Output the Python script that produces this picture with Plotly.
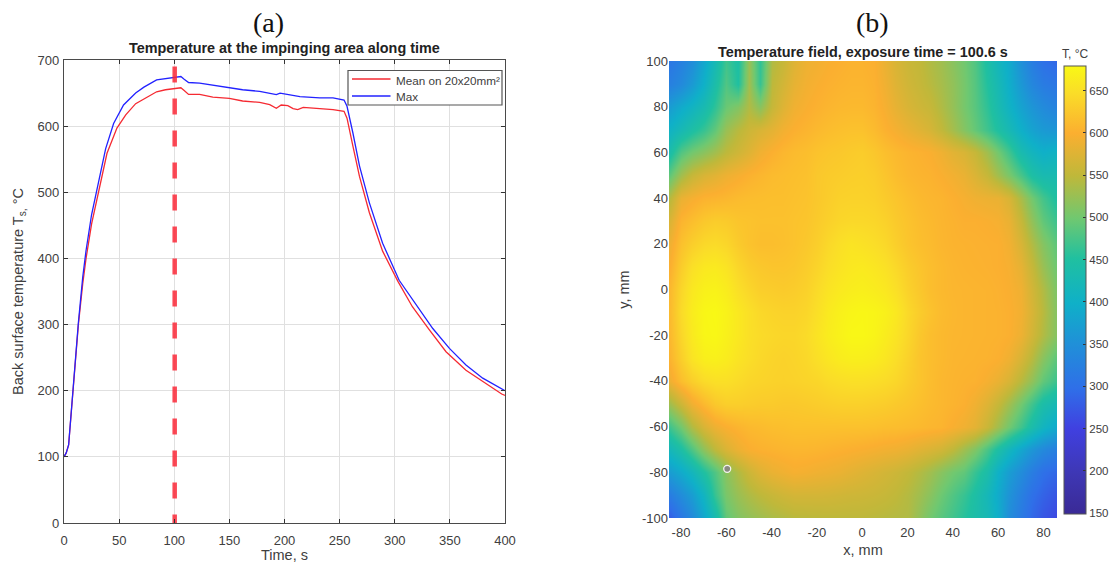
import plotly.graph_objects as go

W, H = 1114, 563

# ---- panel (a) data ----
t_mean = [0, 2, 4.2, 8, 13, 17, 20, 25, 31.7, 39, 48, 56, 65, 72.5, 84, 92, 100, 106, 109, 113, 123, 135, 150, 162, 177.5, 186.6, 192.6, 197, 203, 207.8, 212, 217, 232, 244, 254, 256.7, 262, 268, 277, 289, 303, 316, 331.4, 346.5, 364.6, 380, 397, 400]
v_mean = [100, 106, 118, 196, 299, 362, 400, 452, 503, 559, 597, 617, 634, 641, 652, 655, 657, 658, 654, 648, 648, 644, 642, 638, 636, 632.5, 627, 632, 631, 626.5, 625, 628.5, 626.5, 625, 622.4, 612, 570, 524, 469, 411, 365, 327, 292, 259, 231, 213.6, 195, 193]
t_max = [0, 2, 4.2, 8, 13, 17, 20, 25, 29.6, 37.8, 45, 54, 65, 72.5, 84, 92, 99, 106, 109, 113, 123, 135, 150, 162, 177.5, 192.6, 196, 214, 232, 244, 254, 256.7, 262, 268, 277, 289, 304, 319, 334.5, 349.6, 364.6, 379.8, 398, 400]
v_max = [100, 106, 118, 198, 302, 372, 412, 466, 503, 566, 604, 632, 650, 659, 670, 672, 674, 675, 671, 666, 665, 662, 659, 655, 652.6, 647.6, 650, 644.6, 642.6, 642.6, 639.5, 630, 590, 540, 484, 423, 367, 332, 294, 264, 239, 219, 201, 200]
marker_t = [100.4, 100.4]
marker_v = [690, 0]

# ---- panel (b) data ----
grid_x = list(range(-85, 86, 5))
grid_y = list(range(100, -101, -10))
field = [
    [310,325,345,385,425,470,445,525,460,540,555,575,588,592,597,600,603,603,600,585,570,558,552,540,530,515,500,480,445,415,390,350,320,300,290],
    [325,340,365,400,440,480,450,530,465,548,565,582,592,597,601,604,606,606,602,590,575,563,555,545,534,520,503,483,452,425,395,362,335,318,310],
    [370,390,408,430,460,495,510,540,515,555,575,590,597,602,606,609,610,610,605,595,582,570,562,555,540,522,503,485,460,432,405,378,358,342,330],
    [405,425,445,465,490,525,545,560,570,580,592,600,605,610,614,617,619,619,612,602,594,585,577,568,552,532,512,492,470,448,425,398,378,365,360],
    [440,480,500,515,530,548,562,575,590,600,607,612,615,620,623,625,628,630,624,616,610,605,602,598,590,578,570,555,530,500,470,432,412,398,405],
    [490,530,555,570,578,588,595,602,607,612,614,616,618,625,628,630,632,633,630,622,614,608,605,603,598,592,585,572,555,530,505,475,445,430,430],
    [545,585,595,603,605,608,612,614,615,616,616,618,620,625,630,635,636,636,634,628,622,615,610,607,605,600,595,590,587,585,570,535,500,472,450],
    [572,605,615,625,630,628,622,620,618,618,618,620,622,628,634,640,642,642,640,635,627,620,614,610,606,603,600,600,598,595,585,555,520,490,470],
    [590,618,632,642,645,640,628,620,615,615,617,620,625,632,642,650,655,652,648,642,632,622,616,612,607,604,603,602,601,600,592,570,540,512,490],
    [600,630,650,660,662,655,640,630,625,622,622,624,630,638,648,655,660,662,658,652,642,630,622,615,610,606,604,603,602,600,596,582,555,525,500],
    [610,640,660,670,672,665,650,640,632,630,628,630,635,645,655,662,666,668,665,660,650,635,625,615,610,607,606,605,604,602,598,590,565,540,510],
    [612,645,665,677,679,672,660,650,642,638,636,636,640,650,662,670,675,677,675,670,660,642,630,620,612,608,606,605,604,603,600,592,570,545,515],
    [610,640,662,676,678,670,660,650,645,642,640,640,645,655,665,672,678,678,674,665,655,640,625,615,610,607,606,605,604,603,600,588,565,540,515],
    [605,632,655,668,670,665,655,648,642,638,636,638,642,650,658,665,668,668,665,658,648,635,622,615,610,606,605,604,603,600,590,570,545,515,490],
    [590,615,632,645,650,650,645,640,638,636,635,636,638,640,645,648,650,650,648,645,640,630,622,614,608,605,603,602,595,585,570,545,520,490,470],
    [530,560,590,610,625,632,632,630,628,628,626,626,628,630,632,634,634,634,632,630,626,622,617,612,608,604,600,590,575,555,530,500,470,440,425],
    [470,500,540,570,588,598,605,610,612,615,616,618,618,618,618,618,618,618,617,615,614,612,610,607,605,597,590,580,558,530,500,470,438,410,390],
    [420,445,480,520,550,572,588,598,602,604,606,607,607,606,604,602,600,598,595,592,590,585,578,572,565,550,530,510,478,445,415,385,360,340,325],
    [370,390,415,450,480,515,540,560,575,585,590,595,593,590,588,585,580,575,570,565,560,552,542,530,515,500,490,465,440,400,370,345,320,300,290],
    [320,345,370,410,465,505,525,538,548,556,562,566,566,566,565,563,561,560,558,555,550,542,530,515,497,480,465,445,420,390,355,325,300,285,272],
    [280,310,340,385,430,490,510,520,528,536,540,545,546,547,548,548,548,548,546,544,542,540,520,500,485,470,455,440,425,395,345,315,290,272,260],
]
dot_x = [-59.6]
dot_y = [-78.5]
x_ticks = [-80, -60, -40, -20, 0, 20, 40, 60, 80]
y_ticks = [-100, -80, -60, -40, -20, 0, 20, 40, 60, 80, 100]
legend_labels = ["Mean on 20x20mm²", "Max"]

parula = [
    [0.00, "#3a2a96"], [0.09, "#3e37b4"], [0.19, "#4040e0"], [0.28, "#2f6fe8"],
    [0.38, "#2090d8"], [0.47, "#0fb0c8"], [0.57, "#20c0a0"], [0.66, "#70c870"],
    [0.755, "#bfb83a"], [0.85, "#fbaf30"], [0.94, "#fadd28"], [1.00, "#f9f815"],
]

INK = "#404040"
RED = "#f52a32"
BLUE = "#2222ff"
FONT = "Liberation Sans, Arial, sans-serif"
fig = go.Figure()

fig.add_trace(go.Scatter(x=t_mean, y=v_mean, mode="lines", name=legend_labels[0], showlegend=False,
                         line=dict(color=RED, width=1.3), xaxis="x", yaxis="y"))
fig.add_trace(go.Scatter(x=t_max, y=v_max, mode="lines", name=legend_labels[1], showlegend=False,
                         line=dict(color=BLUE, width=1.3), xaxis="x", yaxis="y"))
fig.add_trace(go.Scatter(x=marker_t, y=marker_v, mode="lines", showlegend=False,
                         line=dict(color="rgba(250,40,55,0.85)", width=4.5, dash="16px,16px"),
                         xaxis="x", yaxis="y"))

fig.add_trace(go.Heatmap(x=grid_x, y=grid_y, z=field, colorscale=parula, zmin=149, zmax=679,
                         zsmooth="best", xaxis="x2", yaxis="y2", showlegend=False,
                         colorbar=dict(x=1064 / W, xanchor="left", xref="paper",
                                       y=(H - 514) / H, yanchor="bottom", yref="paper",
                                       len=448 / H, lenmode="fraction",
                                       thickness=22, thicknessmode="pixels",
                                       tickvals=[150, 200, 250, 300, 350, 400, 450, 500, 550, 600, 650],
                                       ticks="inside", ticklen=3, tickcolor="#333333",
                                       tickfont=dict(size=11.5, color=INK, family=FONT),
                                       outlinecolor="#555555", outlinewidth=1, xpad=0, ypad=0)))
fig.add_trace(go.Scatter(x=dot_x, y=dot_y, mode="markers", showlegend=False,
                         marker=dict(size=7, color="#8a8a80", line=dict(color="#f4f4f0", width=1.3)),
                         xaxis="x2", yaxis="y2"))

axis_common = dict(showline=True, linecolor="#4a4a4a", linewidth=1.3, mirror="ticks", ticks="inside",
                   ticklen=4, tickcolor="#333333", tickfont=dict(size=13, color=INK, family=FONT),
                   zeroline=False)
plain_axis = dict(showgrid=False, showline=False, ticks="", zeroline=False,
                  tickfont=dict(size=13, color=INK, family=FONT))


def px(x):
    return x / W


def py(y):
    return (H - y) / H


def paper_text(text, x, y, size, color=INK, family=None, anchor="center"):
    font = dict(size=size, color=color)
    if family:
        font["family"] = family
    return dict(text=text, x=px(x), y=py(y), xref="paper", yref="paper", showarrow=False,
                xanchor=anchor, yanchor="middle", font=font)


fig.update_layout(
    width=W, height=H, autosize=False, margin=dict(l=0, r=0, t=0, b=0, autoexpand=False),
    paper_bgcolor="white", plot_bgcolor="white", font=dict(family=FONT, color=INK), showlegend=False,
    xaxis=dict(domain=[px(64), px(505)], range=[0, 400], tickvals=list(range(0, 401, 50)),
               showgrid=True, gridcolor="#e0e0e0", gridwidth=1, ticklabelstandoff=5,
               title=dict(text="Time, s", font=dict(size=14.5, color=INK), standoff=8), **axis_common),
    yaxis=dict(domain=[py(523), py(60)], range=[0, 700], tickvals=list(range(0, 701, 100)),
               showgrid=True, gridcolor="#e0e0e0", gridwidth=1, ticklabelstandoff=1,
               title=dict(text="Back surface temperature T<sub>s,</sub> °C", font=dict(size=14.5, color=INK), standoff=10),
               **axis_common),
    xaxis2=dict(domain=[px(669), px(1057)], range=[-85.3, 86], tickvals=x_ticks,
                ticktext=[str(v) for v in x_ticks], anchor="y2", ticklabelstandoff=5,
                title=dict(text="x, mm", font=dict(size=14.5, color=INK), standoff=5), **plain_axis),
    yaxis2=dict(domain=[py(518), py(61)], range=[-100, 100], tickvals=y_ticks,
                ticktext=[str(v) for v in y_ticks], anchor="x2",
                title=dict(text="y, mm", font=dict(size=14.5, color=INK), standoff=8), **plain_axis),
    shapes=[
        dict(type="rect", xref="paper", yref="paper", x0=px(348), x1=px(502), y0=py(105), y1=py(70.5),
             fillcolor="white", line=dict(color="#555555", width=1.2), layer="above"),
        dict(type="line", xref="paper", yref="paper", x0=px(352), x1=px(390.5), y0=py(79), y1=py(79),
             line=dict(color=RED, width=1.3), layer="above"),
        dict(type="line", xref="paper", yref="paper", x0=px(352), x1=px(390.5), y0=py(96), y1=py(96),
             line=dict(color=BLUE, width=1.3), layer="above"),
    ],
    annotations=[
        paper_text("(a)", 268, 23, 28, "#111111", "Liberation Serif, serif"),
        paper_text("(b)", 872, 23, 28, "#111111", "Liberation Serif, serif"),
        paper_text("<b>Temperature at the impinging area along time</b>", 284.5, 48, 14.4, "#222222"),
        paper_text("<b>Temperature field, exposure time = 100.6 s</b>", 863, 52, 14.4, "#222222"),
        paper_text("T, °C", 1075, 54, 12),
        paper_text(legend_labels[0], 394, 80.5, 11.7, anchor="left"),
        paper_text(legend_labels[1], 394, 96.5, 11.7, anchor="left"),
    ],
)

fig.write_html("out.html", config=dict(displayModeBar=False),
               post_script="document.body.style.margin='0';")
